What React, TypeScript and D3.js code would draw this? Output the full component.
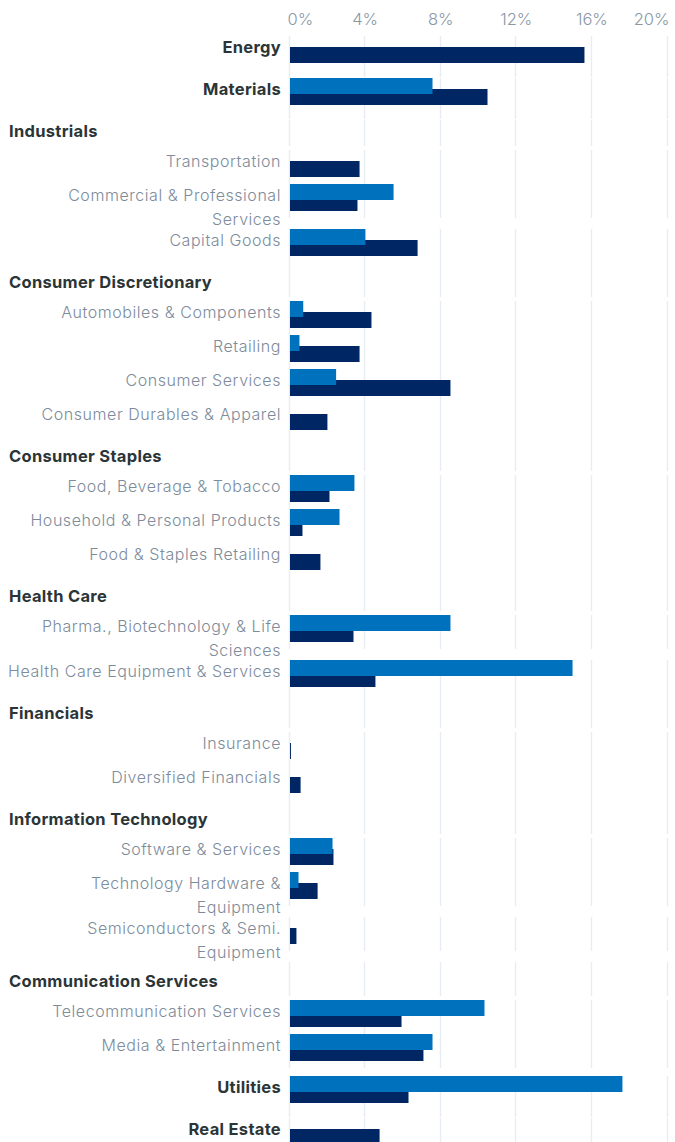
import React from "react";
import * as d3 from "d3";

// ---- data ----
const rowLabels: string[][] = [
  ["Energy"],
  ["Materials"],
  ["Industrials"],
  ["Transportation"],
  ["Commercial & Professional", "Services"],
  ["Capital Goods"],
  ["Consumer Discretionary"],
  ["Automobiles & Components"],
  ["Retailing"],
  ["Consumer Services"],
  ["Consumer Durables & Apparel"],
  ["Consumer Staples"],
  ["Food, Beverage & Tobacco"],
  ["Household & Personal Products"],
  ["Food & Staples Retailing"],
  ["Health Care"],
  ["Pharma., Biotechnology & Life", "Sciences"],
  ["Health Care Equipment & Services"],
  ["Financials"],
  ["Insurance"],
  ["Diversified Financials"],
  ["Information Technology"],
  ["Software & Services"],
  ["Technology Hardware &", "Equipment"],
  ["Semiconductors & Semi.", "Equipment"],
  ["Communication Services"],
  ["Telecommunication Services"],
  ["Media & Entertainment"],
  ["Utilities"],
  ["Real Estate"],
];
// "top" = sector without sub-industries, "header" = sector heading, "sub" = industry group
const rowKinds: string[] = [
  "top", "top", "header", "sub", "sub", "sub", "header", "sub", "sub", "sub", "sub",
  "header", "sub", "sub", "sub", "header", "sub", "sub", "header", "sub", "sub",
  "header", "sub", "sub", "sub", "header", "sub", "sub", "top", "top",
];
const blueValues: (number | null)[] = [
  0, 7.54, null, 0, 5.48, 3.99, null, 0.7, 0.5, 2.44, 0,
  null, 3.41, 2.62, 0, null, 8.49, 14.95, null, 0, 0,
  null, 2.25, 0.45, 0, null, 10.29, 7.54, 17.59, 0,
];
const navyValues: (number | null)[] = [
  15.58, 10.45, null, 3.68, 3.57, 6.75, null, 4.31, 3.68, 8.49, 1.98,
  null, 2.09, 0.66, 1.61, null, 3.36, 4.52, null, 0.05, 0.56,
  null, 2.3, 1.46, 0.34, null, 5.9, 7.06, 6.27, 4.74,
];
const tickValues: number[] = [0, 4, 8, 12, 16, 20];

const W = 675;
const H = 1142;
const BLUE = "#0071bc";
const NAVY = "#002663";
const GRID = "#e7edf3";
const FONT = "Inter, 'Noto Sans', sans-serif";

export default function App() {
  const x = d3.scaleLinear().domain([0, 20]).range([289.5, 667.5]);

  type Row = { i: number; y: number; h: number; kind: string };
  const rows: Row[] = [];
  const gridSegs: [number, number][] = [];
  let y = 36;
  const LH = 22.5;
  for (let i = 0; i < rowKinds.length; i++) {
    const kind = rowKinds[i];
    const prev = i > 0 ? rowKinds[i - 1] : null;
    if (prev === "sub" && kind !== "sub") {
      if (kind === "header") gridSegs.push([y, y + 8]);
      y += 8;
    }
    if (kind === "top") {
      rows.push({ i, y, h: 42, kind });
      gridSegs.push([y, y + 41]);
      y += 42;
    } else if (kind === "header") {
      rows.push({ i, y, h: 26, kind });
      gridSegs.push([y, y + 26]);
      y += 30;
    } else {
      const h = Math.max(34, rowLabels[i].length * LH);
      rows.push({ i, y, h, kind });
      gridSegs.push([y, y + 34]);
      y += h;
    }
  }

  const barH = 16;

  return (
    <svg
      width={W}
      height={H}
      style={{ position: "absolute", left: 0, top: 0, background: "#fff" }}
      fontFamily={FONT}
    >
      <g>
        {tickValues.map((t) =>
          gridSegs.map(([a, b], k) => (
            <line
              key={t + "-" + k}
              x1={Math.round(x(t)) - 0.5}
              x2={Math.round(x(t)) - 0.5}
              y1={a}
              y2={b}
              stroke={GRID}
              strokeWidth={1.5}
            />
          ))
        )}
      </g>
      <g>
        {tickValues.map((t, k) => (
          <text
            key={t}
            x={k === 0 ? x(t) - 2 : k === tickValues.length - 1 ? x(t) + 2 : x(t)}
            y={25}
            textAnchor={k === 0 ? "start" : k === tickValues.length - 1 ? "end" : "middle"}
            fontSize={16.5}
            fontWeight={300}
            fill="#8a97a5"
          >
            {d3.format("d")(t) + "%"}
          </text>
        ))}
      </g>
      <g>
        {rows.map((r) => {
          const nv = navyValues[r.i];
          const bv = blueValues[r.i];
          return (
            <g key={r.i}>
              {nv != null && nv > 0 && (
                <rect x={x(0) + 0.5} y={r.y + 11} width={x(nv) - x(0)} height={barH} fill={NAVY} />
              )}
              {bv != null && bv > 0 && (
                <rect x={x(0) + 0.5} y={r.y} width={x(bv) - x(0)} height={barH} fill={BLUE} />
              )}
            </g>
          );
        })}
      </g>
      <g>
        {rows.map((r) => {
          const lines = rowLabels[r.i];
          if (r.kind === "header") {
            return (
              <text key={r.i} x={9} y={r.y + 16.5} fontSize={16.5} fontWeight={700} letterSpacing={0.3} fill="#2b3537">
                {lines[0]}
              </text>
            );
          }
          if (r.kind === "top") {
            return (
              <text
                key={r.i}
                x={281}
                y={r.y + 16.5}
                textAnchor="end"
                fontSize={16.5}
                fontWeight={700}
                letterSpacing={0.3}
                fill="#2b3537"
              >
                {lines[0]}
              </text>
            );
          }
          return (
            <text key={r.i} x={281} textAnchor="end" fontSize={16} fontWeight={300} letterSpacing={0.55} fill="#7d8b9b">
              {lines.map((l, k) => (
                <tspan key={k} x={281} y={r.y + 16.5 + k * 24.5}>
                  {l}
                </tspan>
              ))}
            </text>
          );
        })}
      </g>
    </svg>
  );
}
